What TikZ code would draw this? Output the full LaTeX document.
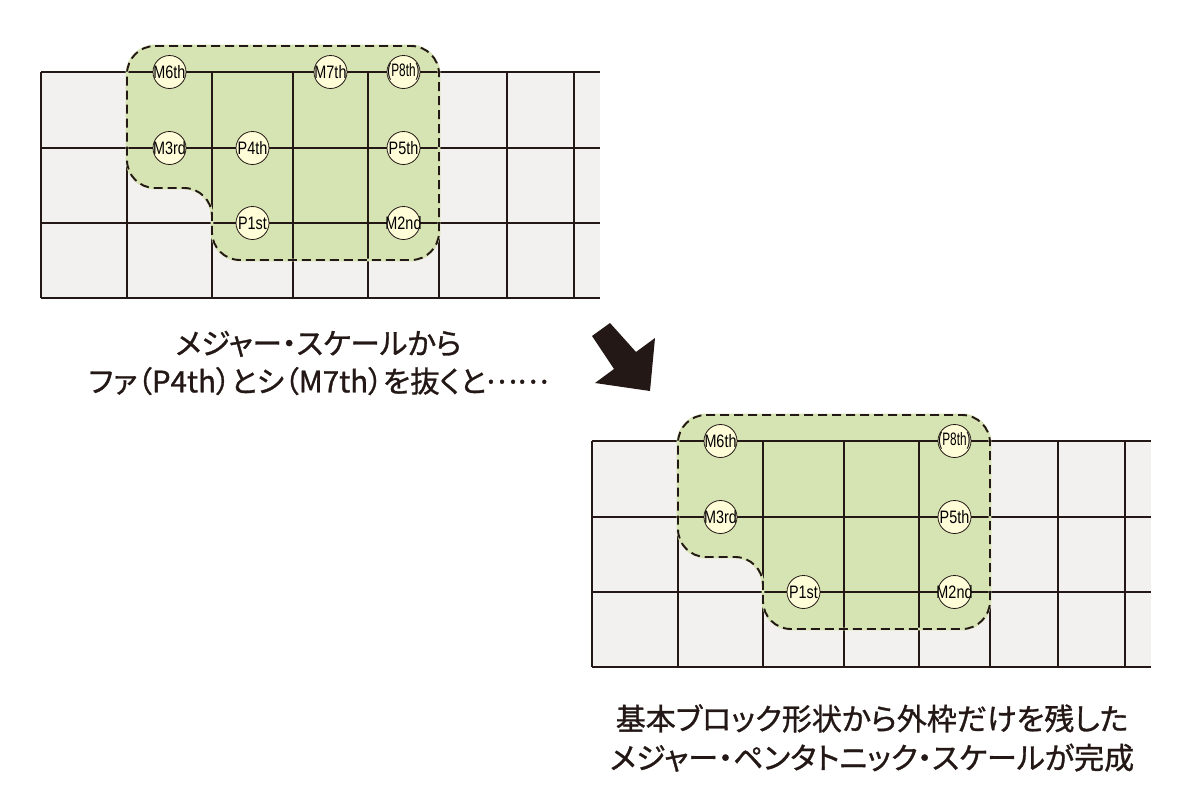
\documentclass[tikz,border=0pt]{standalone}
\usepackage{fontspec}
\setmainfont{Liberation Sans}
\newfontfamily\jpfont[RawFeature=+palt,FakeBold=1]{Noto Sans CJK JP}
\newfontfamily\notefont[FakeStretch=0.8]{Liberation Sans}
\usetikzlibrary{positioning}
\definecolor{fretline}{HTML}{231815}
\definecolor{boardgray}{HTML}{F3F1EF}
\definecolor{padgreen}{HTML}{D6E3B2}
\definecolor{notefill}{HTML}{FFFCD8}

\begin{document}
\begin{tikzpicture}[x=1pt,y=-1pt]
    \tikzset{note/.style={draw=fretline,line width=0.8pt,fill=notefill,circle,minimum size=33pt,inner sep=0pt,font=\notefont\fontsize{18}{18}\selectfont},
      caption/.style={align=center,text=fretline,font=\jpfont\fontsize{30}{39}\selectfont},
      area/.style={rounded corners=28pt,insert path={(86,-26) -- (398,-26) -- (398,188) -- (171,188) -- (171,116) -- (86,116) -- cycle}}}
    \useasboundingbox[fill=white] (0,0) rectangle (1200,801);
    % the two fretboards with the green block
    \foreach \bx/\by in {41/72,592/441}{
      \begin{scope}[shift={(\bx,\by)}]
        \fill[boardgray] (0,0) rectangle (559,226);
        \fill[padgreen,area];
        \foreach \fy in {0,76,151,226} \draw[fretline,line width=1.1pt] (0,\fy) -- (559,\fy);
        \foreach \fx in {0,86,171,252,327,398,466,533} \draw[fretline,line width=1.1pt] (\fx,0) -- (\fx,226);
        \draw[padgreen,line width=2.8pt,area];
        \draw[fretline,line width=1.9pt,dash pattern=on 9pt off 5pt,area];
      \end{scope}
    }
    \begin{scope}[shift={(41,72)}]
      \foreach \n/\t/\x/\y in {m6/M6th/128.5/0,m7/M7th/289.5/0,p8/{\scalebox{.82}[1]{(P8th)}}/362.5/0,m3/M3rd/128.5/76,p4/P4th/211.5/76,p5/P5th/362.5/76,p1/P1st/211.5/151,m2/M2nd/362.5/151}
        \node[note] (top-\n) at (\x,\y) {\makebox[0pt]{\t}};
    \end{scope}
    \begin{scope}[shift={(592,441)}]
      \foreach \n/\t/\x/\y in {m6/M6th/128.5/0,p8/{\scalebox{.82}[1]{(P8th)}}/362.5/0,m3/M3rd/128.5/76,p5/P5th/362.5/76,p1/P1st/211.5/151,m2/M2nd/362.5/151}
        \node[note] (bot-\n) at (\x,\y) {\makebox[0pt]{\t}};
    \end{scope}
    % big arrow
    \fill[fretline] (592,336) -- (610,323) -- (636,352) -- (655,338) -- (650,391) -- (595,383) -- (614,369) -- cycle;
    \node[caption,font=\jpfont\fontsize{29.5}{38}\selectfont] (cap-top) at (318.5,363) {メジャー・スケールから\\ファ（P4th）とシ（M7th）を抜くと\raisebox{.3em}{……}};
    \node[caption] (cap-bot) at (872,738) {基本ブロック形状から外枠だけを残した\\メジャー・ペンタトニック・スケールが完成};
\end{tikzpicture}
\end{document}
